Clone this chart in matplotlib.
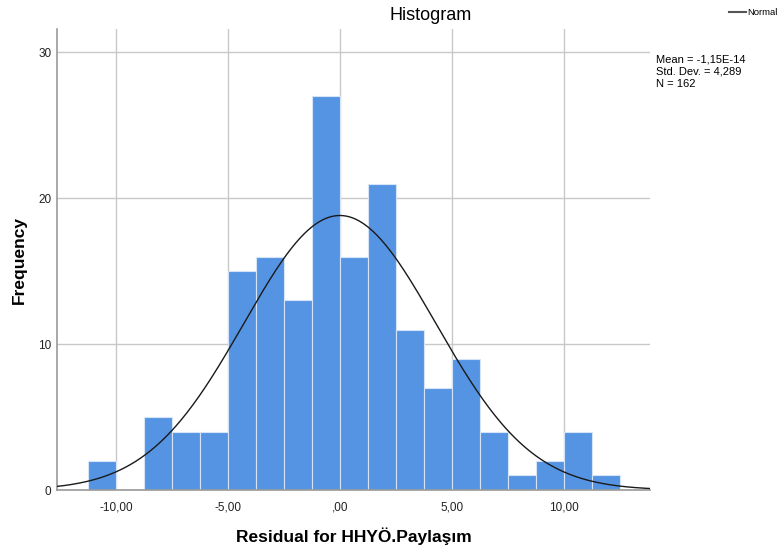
import numpy as np
import matplotlib.pyplot as plt

plt.rcParams['font.family'] = ['Liberation Sans', 'DejaVu Sans']

# histogram bins
bin_start = -11.24
bin_width = 1.249
counts = [2, 0, 5, 4, 4, 15, 16, 13, 27, 16, 21, 11, 7, 9, 4, 1, 2, 4, 1]

# stats shown in the chart
mean = -1.15e-14
std = 4.289
n = 162

xticks = [-10, -5, 0, 5, 10]
xticklabels = ['-10,00', '-5,00', ',00', '5,00', '10,00']
yticks = [0, 10, 20, 30]

fig = plt.figure(figsize=(7.81, 5.54), dpi=100)
ax = fig.add_axes([0.073, 0.1155, 0.759, 0.832])

lefts = bin_start + bin_width * np.arange(len(counts))
ax.bar(lefts, counts, width=bin_width, align='edge', color='#5594e3',
       edgecolor='#d6e4f7', linewidth=0.8, zorder=2)

# normal curve
xs = np.linspace(-12.7, 13.9, 400)
ys = n * bin_width / (std * np.sqrt(2 * np.pi)) * np.exp(-0.5 * ((xs - mean) / std) ** 2)
ax.plot(xs, ys, color='#1a1a1a', linewidth=1.0, zorder=3)

ax.set_xlim(-12.63, 13.84)
ax.set_ylim(0, 31.6)
ax.set_xticks(xticks)
ax.set_xticklabels(xticklabels)
ax.set_yticks(yticks)
ax.tick_params(length=0, labelsize=8.5, colors='#222222', pad=8)
ax.tick_params(axis='y', pad=4)
ax.grid(True, color='#c8c8c8', linewidth=1.0, zorder=0)
ax.set_axisbelow(True)
for s in ['top', 'right']:
    ax.spines[s].set_visible(False)
for s in ['left', 'bottom']:
    ax.spines[s].set_color('#9a9a9a')
    ax.spines[s].set_linewidth(1.2)

ax.set_xlabel('Residual for HHYÖ.Paylaşım', fontsize=12.5, fontweight='bold', labelpad=10)
ax.set_ylabel('Frequency', fontsize=12.5, fontweight='bold', labelpad=8)

fig.text(0.552, 0.972, 'Histogram', ha='center', va='center', fontsize=13)

# legend
fig.add_artist(plt.Line2D([0.934, 0.955], [0.978, 0.978], color='#555555', linewidth=1.5))
fig.text(0.996, 0.978, 'Normal', ha='right', va='center', fontsize=6.8)

fig.text(0.840, 0.902, 'Mean = -1,15E-14\nStd. Dev. = 4,289\nN = 162',
         ha='left', va='top', fontsize=8, linespacing=1.3)

fig.savefig('out.png', dpi=100)
